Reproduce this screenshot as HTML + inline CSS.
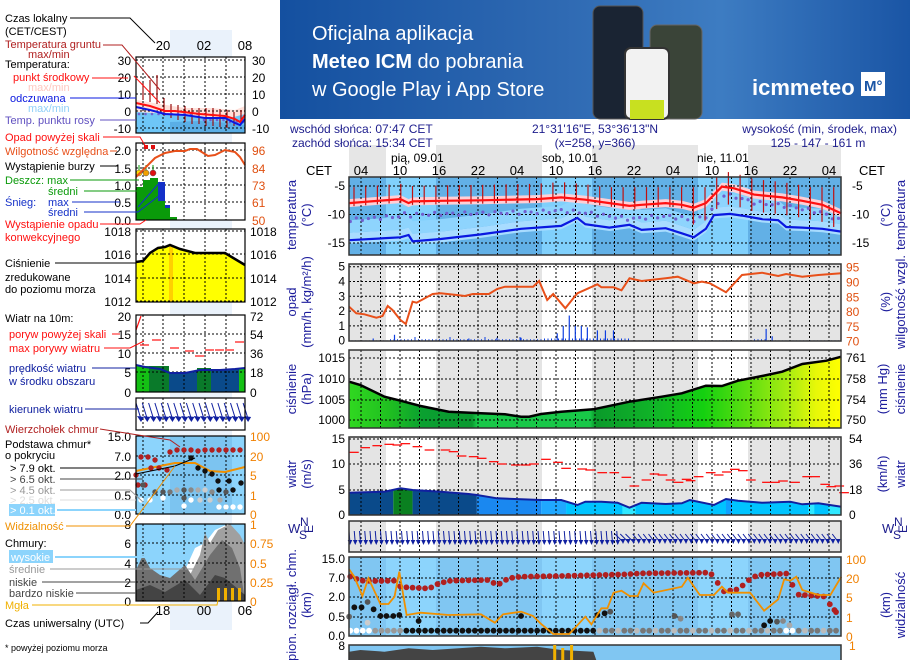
<!DOCTYPE html>
<html><head><meta charset="utf-8">
<style>
html,body{margin:0;padding:0;background:#fff;}
body{width:910px;height:660px;overflow:hidden;position:relative;font-family:"Liberation Sans",sans-serif;}
svg{position:absolute;left:0;top:0;}
text{font-family:"Liberation Sans",sans-serif;}
</style></head>
<body>
<svg id="s" width="910" height="660" xmlns="http://www.w3.org/2000/svg">
<defs>
<linearGradient id="ban" x1="0" y1="0" x2="1" y2="0">
<stop offset="0" stop-color="#1450a0"/><stop offset="0.45" stop-color="#2f6ab3"/><stop offset="0.7" stop-color="#3d7cc2"/><stop offset="1" stop-color="#1a55a5"/></linearGradient>
<linearGradient id="pres" x1="349" y1="0" x2="841" y2="0" gradientUnits="userSpaceOnUse">
<stop offset="0" stop-color="#30d820"/><stop offset="0.08" stop-color="#20c020"/><stop offset="0.15" stop-color="#0aa030"/><stop offset="0.25" stop-color="#0a9a30"/><stop offset="0.26" stop-color="#18c848"/><stop offset="0.49" stop-color="#18c848"/><stop offset="0.5" stop-color="#0a9a2a"/><stop offset="0.62" stop-color="#10b428"/><stop offset="0.72" stop-color="#14d010"/><stop offset="0.82" stop-color="#66e010"/><stop offset="0.9" stop-color="#b0ee10"/><stop offset="0.95" stop-color="#e8f808"/><stop offset="1" stop-color="#ffff00"/></linearGradient>
</defs>
<rect x="280" y="0" width="630" height="119" fill="url(#ban)"/>
<text x="312" y="40" fill="#fff" font-size="20">Oficjalna aplikacja</text>
<text x="312" y="68" fill="#fff" font-size="20"><tspan font-weight="bold">Meteo ICM</tspan> do pobrania</text>
<text x="312" y="96" fill="#fff" font-size="20">w Google Play i App Store</text>
<rect x="593" y="6" width="50" height="113" rx="7" fill="#1a2433" stroke="#555"/>
<rect x="650" y="25" width="52" height="94" rx="7" fill="#3a4438" stroke="#666"/>
<rect x="625" y="48" width="44" height="71" rx="6" fill="#f2f2f2" stroke="#333" stroke-width="2"/>
<rect x="630" y="100" width="34" height="19" fill="#c8e020"/>
<text x="752" y="95" fill="#fff" font-size="22" font-weight="bold">icmmeteo</text>
<rect x="861" y="72" width="24" height="24" fill="#fff"/>
<text x="864" y="91" fill="#1a55a5" font-size="15" font-weight="bold">M°</text>
</svg>
<script>
(function(){
var s=document.getElementById('s');var NS='http://www.w3.org/2000/svg';
function el(t,a,txt){var e=document.createElementNS(NS,t);for(var k in a)e.setAttribute(k,a[k]);if(txt!=null)e.textContent=txt;s.appendChild(e);return e;}
function X(zx){return 280+zx/2.489;}
function Y2(zy){return 120+zy/3;}
function Y3(zy){return 350+zy/3;}
function pts(a,fx,fy){return a.map(function(p){return fx(p[0]).toFixed(1)+','+fy(p[1]).toFixed(1);}).join(' ');}
function txt(x,y,t,c,sz,anc,extra){var a={x:x,y:y,fill:c||'#000','font-size':sz||12};if(anc)a['text-anchor']=anc;if(extra)for(var k in extra)a[k]=extra[k];return el('text',a,t);}
function rot(x,y,t,c,sz){return el('text',{x:0,y:0,fill:c||'#1c1c9c','font-size':sz||13,'text-anchor':'middle',transform:'translate('+x+','+y+') rotate(-90)'},t);}
var L=349,R=841;
var nights=[[349,386],[436,542],[592,698],[748,841]];
var days=[[386,436],[542,592],[698,748]];
nights.forEach(function(n){el('rect',{x:n[0],y:145,width:n[1]-n[0],height:32,fill:'#e6e6e6'});});
var NAVY='#1c1c8c';
txt(290,133,'wschód słońca: 07:47 CET',NAVY,12);
txt(292,147,'zachód słońca: 15:34 CET',NAVY,12);
txt(595,133,'21°31\'16"E, 53°36\'13"N',NAVY,12,'middle');
txt(595,147,'(x=258,  y=366)',NAVY,12,'middle');
txt(897,133,'wysokość (min, środek, max)',NAVY,12,'end');
txt(818,147,'125 - 147 - 161 m',NAVY,12,'middle');
txt(391,162,'pią, 09.01','#000',12);txt(542,162,'sob, 10.01','#000',12);txt(697,162,'nie, 11.01','#000',12);
var hrs=['04','10','16','22'];
for(var i=0;i<13;i++){txt(361+39*i,175,hrs[i%4],'#000',13,'middle');}
txt(306,175,'CET','#000',13);txt(859,175,'CET','#000',13);
function vgrid(y1,y2){for(var x=361;x<R;x+=19.5)el('line',{x1:x,y1:y1,x2:x,y2:y2,stroke:'#000','stroke-dasharray':'2,2','stroke-width':1});}
function hgrid(ys){ys.forEach(function(y){el('line',{x1:L,y1:y,x2:R,y2:y,stroke:'#000','stroke-dasharray':'2,2','stroke-width':1});});}
function frame(y1,y2){el('rect',{x:L,y:y1,width:R-L,height:y2-y1,fill:'none',stroke:'#333','stroke-width':1.5});}
function grayBg(y1,y2){el('rect',{x:L,y:y1,width:R-L,height:y2-y1,fill:'#fff'});nights.forEach(function(n){el('rect',{x:n[0],y:y1,width:n[1]-n[0],height:y2-y1,fill:'#e4e4e4'});});}
var Yt=function(T){return 186+(-5-T)*5.7;};
nights.forEach(function(n){el('rect',{x:n[0],y:177,width:n[1]-n[0],height:78,fill:'#62b0e6'});});
days.forEach(function(n){el('rect',{x:n[0],y:177,width:n[1]-n[0],height:78,fill:'#80d0fc'});});
var red=[[172,-8],[300,-7.3],[320,-8],[330,-7.7],[400,-7.6],[500,-7.5],[640,-7.3],[700,-7],[760,-7.4],[820,-8],[870,-8.5],[900,-8.3],[960,-8],[1000,-8.3],[1030,-8.8],[1060,-8],[1100,-5.1],[1130,-5.4],[1180,-6.5],[1250,-7],[1300,-7.6],[1350,-8.3],[1397,-9.8]];
var blue=[[172,-14.5],[300,-14],[320,-13.6],[330,-14.7],[400,-14.3],[500,-13.5],[600,-12.5],[700,-12],[740,-10.6],[760,-11.7],[820,-12.3],[870,-11.8],[900,-12.7],[960,-12.4],[1000,-13.3],[1030,-14],[1060,-12.5],[1080,-10.1],[1120,-9.9],[1150,-10.2],[1200,-10.8],[1240,-11],[1260,-12.2],[1300,-12.3],[1350,-12.5],[1397,-13]];
function band(a,up,dn,col){var top=a.map(function(p){return [p[0],p[1]+up];});var bot=a.slice().reverse().map(function(p){return [p[0],p[1]-dn];});el('polygon',{points:pts(top.concat(bot),X,Yt),fill:col});}
band(blue,1.3,0.6,'#a8dcff');
band(blue,3.5,-1.3,'#8ed4fd');
band(red,0.7,0.7,'#ffcfd6');
vgrid(177,255);hgrid([186,214.5,243]);
function interp(a,zx){for(var i=0;i<a.length-1;i++){if(zx>=a[i][0]&&zx<=a[i+1][0]){var f=(zx-a[i][0])/(a[i+1][0]-a[i][0]);return a[i][1]+f*(a[i+1][1]-a[i][1]);}}return a[a.length-1][1];}
for(var zx=175;zx<=1397;zx+=15){var T=interp(red,zx)-(zx<300?3:(zx<1100?2.3:1.4))+Math.sin(zx)*0.3;el('circle',{cx:X(zx),cy:Yt(T),r:1.6,fill:'#7060d0'});}
for(var x=354;x<R;x+=11.7){var zx=(x-280)*2.489;var T=interp(red,zx);var top=Math.max(-5.2,T+2.7);var bot=T-(zx>1000?3:0.6);el('line',{x1:x,y1:Yt(top),x2:x,y2:Yt(bot),stroke:'#c01010','stroke-width':1.2});}
el('polyline',{points:pts(blue,X,Yt),fill:'none',stroke:'#0a18e0','stroke-width':2.2});
el('polyline',{points:pts(red,X,Yt),fill:'none',stroke:'#ff1010','stroke-width':2.2});
frame(177,255);
[['-5',186],['-10',214.5],['-15',243]].forEach(function(p){txt(345,p[1]+4,p[0],'#000',12,'end');txt(852,p[1]+4,p[0],'#000',12);});
rot(296,215,'temperatura');rot(311,215,'(°C)');rot(890,215,'(°C)');rot(905,215,'temperatura');
grayBg(264,341);
var Yp=function(v){return 340.7-14.8*v;};
vgrid(264,341);hgrid([Yp(1),Yp(2),Yp(3),Yp(4),Yp(5)]);
for(var x=352;x<R;x+=3.5){var zx=(x-280)*2.489;var v=0.02;if(zx>270&&zx<650)v=0.1+((x*7)%5==0?0.15:0);if(zx>650&&zx<870)v=0.15;if((zx>1180&&zx<1210))v=0.1;
el('line',{x1:x,y1:Yp(0),x2:x,y2:Yp(v),stroke:'#1040e0','stroke-width':1});}
[[690,0.5],[705,1.0],[720,1.7],[735,1.0],[750,1.0],[765,0.9],[790,0.7],[810,0.7],[830,0.7],[600,0.2],[540,0.2],[470,0.15],[285,0.4],[1210,0.8],[1225,0.3],[232,0.15]].forEach(function(b){el('line',{x1:X(b[0]),y1:Yp(0),x2:X(b[0]),y2:Yp(b[1]),stroke:'#1040e0','stroke-width':1.2});});
var hum=[[172,560],[190,580],[210,583],[240,593],[255,588],[268,558],[280,570],[300,600],[313,612],[330,545],[340,548],[380,522],[400,520],[440,525],[460,528],[480,522],[520,522],[540,507],[560,500],[600,500],[630,500],[645,483],[665,540],[680,522],[710,565],[740,520],[790,493],[800,502],[830,502],[850,511],[870,475],[900,483],[960,475],[990,470],[1030,490],[1050,485],[1070,490],[1110,517],[1150,465],[1200,458],[1240,468],[1260,462],[1300,470],[1340,465],[1397,460]];
el('polyline',{points:pts(hum,X,Y2),fill:'none',stroke:'#e8501a','stroke-width':2});
frame(264,341);
for(var v=0;v<=5;v++)txt(345,Yp(v)+4,''+v,'#000',12,'end');
['95','90','85','80','75','70'].forEach(function(t,i){txt(846,Yp(5-i)+5,t,'#e05010',12);});
rot(296,302,'opad');rot(311,302,'(mm/h, kg/m²/h)');rot(890,302,'(%)');rot(905,302,'wilgotność wzgl.');
grayBg(350,428);
var pr=[[172,95],[200,105],[260,140],[300,152],[350,168],[420,185],[500,190],[560,193],[600,200],[620,200],[650,192],[700,185],[780,178],[870,155],[950,140],[1000,130],[1060,107],[1100,108],[1140,92],[1200,78],[1250,65],[1300,42],[1360,32],[1397,20]];
var pp=pr.concat([[1397,235],[172,235]]);
el('polygon',{points:pts(pp,X,Y3),fill:'url(#pres)'});
vgrid(350,428);hgrid([358,379,400,420]);
el('polyline',{points:pts(pr,X,Y3),fill:'none',stroke:'#000','stroke-width':2.5});
frame(350,428);
[['1015',358],['1010',379],['1005',400],['1000',420]].forEach(function(p){txt(345,p[1]+4,p[0],'#000',12,'end');});
[['761',358],['758',379],['754',400],['750',420]].forEach(function(p){txt(846,p[1]+4,p[0],'#000',12);});
rot(296,389,'ciśnienie');rot(311,389,'(hPa)');rot(887,389,'(mm Hg)');rot(905,389,'ciśnienie');
grayBg(437,515);
var ws=[[172,428],[260,425],[300,415],[330,420],[400,425],[470,432],[490,435],[540,445],[600,448],[650,450],[700,450],[740,465],[760,455],[800,455],[840,458],[870,473],[900,458],[960,462],[1000,460],[1020,450],[1080,465],[1110,447],[1140,452],[1200,458],[1270,455],[1300,463],[1340,460],[1397,470]];
var cp=el('clipPath',{id:'wc'});var poly=document.createElementNS(NS,'polygon');poly.setAttribute('points',pts(ws.concat([[1397,495],[172,495]]),X,Y3));cp.appendChild(poly);
[[172,282,'#0a4a8a'],[282,330,'#0a8020'],[330,490,'#0a4a8a'],[490,650,'#1a88f0'],[650,712,'#20a8ff'],[712,1397,'#00c4ff'],[852,885,'#30e8ff'],[1315,1330,'#30e8ff'],[1365,1397,'#30e8ff'],[1110,1125,'#10a0ff']].forEach(function(c){el('rect',{x:X(c[0]),y:430,width:X(c[1])-X(c[0]),height:86,fill:c[2],'clip-path':'url(#wc)'});});
vgrid(437,515);hgrid([439,464,490]);
el('polyline',{points:pts(ws,X,Y3),fill:'none',stroke:'#1020a0','stroke-width':2});
var gu=[[172,307],[200,293],[230,287],[260,283],[280,285],[300,281],[330,290],[360,300],[400,300],[420,305],[440,318],[470,320],[490,325],[520,335],[540,342],[575,345],[600,345],[620,342],[650,328],[680,337],[700,355],[740,357],[760,360],[790,368],[820,368],[850,382],[870,408],[900,390],[920,372],[940,375],[960,390],[980,397],[1000,388],[1010,392],[1030,380],[1060,368],[1080,375],[1100,366],[1120,358],[1140,362],[1160,390],[1200,397],[1220,397],[1240,393],[1270,397],[1300,380],[1320,380],[1345,403],[1360,410],[1380,408],[1392,428]];
gu.forEach(function(g){el('line',{x1:X(g[0]),y1:Y3(g[1]),x2:X(g[0]+24),y2:Y3(g[1]),stroke:'#ff1010','stroke-width':1.3});});
frame(437,515);
[['15',439],['10',464],['5',490],['0',515]].forEach(function(p){txt(345,p[1]+4,p[0],'#000',12,'end');});
[['54',439],['36',464],['18',490],['0',515]].forEach(function(p){txt(849,p[1]+4,p[0],'#000',12);});
rot(296,474,'wiatr');rot(311,474,'(m/s)');rot(887,474,'(km/h)');rot(905,474,'wiatr');
grayBg(521,552);vgrid(521,552);
for(var x=350;x<R;x+=5.25){var zx=(x-280)*2.489;var dx=zx<850?1:(zx<880?8:6);var y1=531,y2=543;if(zx>=850){y1=534;y2=542;}
el('line',{x1:x-dx,y1:y1,x2:x,y2:y2,stroke:'#1020a0','stroke-width':1});
el('polygon',{points:(x-2.3)+','+(y2-3)+' '+(x+2.3)+','+(y2-3)+' '+x+','+(y2+2),fill:'#1020a0'});}
frame(521,552);
function compass(x,y){txt(x,y+10,'W',NAVY,13);txt(x+12,y+3,'N',NAVY,12);txt(x+11,y+16,'S',NAVY,12);txt(x+19,y+10,'E',NAVY,12,null,{transform:'rotate(-90 '+(x+22)+' '+(y+7)+')'});}
compass(288,523);compass(882,523);
nights.forEach(function(n){el('rect',{x:n[0],y:557,width:n[1]-n[0],height:79,fill:'#80c6f2'});});
days.forEach(function(n){el('rect',{x:n[0],y:557,width:n[1]-n[0],height:79,fill:'#8cd4fc'});});
vgrid(557,636);hgrid([578,597,617]);
var top=[[172,678],[185,685],[205,692],[245,693],[285,692],[300,710],[315,712],[362,715],[378,712],[395,700],[425,692],[520,690],[537,703],[552,700],[567,685],[600,680],[700,678],[860,673],[900,670],[1060,668],[1080,675],[1100,725],[1140,718],[1158,700],[1172,685],[1190,675],[1270,670],[1280,733],[1360,740],[1375,780],[1397,795]];
for(var zx=175;zx<=1397;zx+=15.5){el('circle',{cx:X(zx),cy:Y3(interp(top,zx)),r:2.9,fill:'#b02020'});}
for(var zx=175;zx<=1397;zx+=15.5){var c='#888';if(zx>300&&zx<790)c='#111';else if(zx<300)c=(zx<230?'#fff':'#999');else if(zx>1250&&zx<1290)c='#fff';else c=((Math.round(zx/15.5))%3==0?'#bbb':'#777');
el('circle',{cx:X(zx),cy:Y3(842),r:2.9,fill:c});}
[[172,800,'#666'],[185,772,'#111'],[203,772,'#111'],[218,756,'#555'],[218,818,'#ccc'],[233,778,'#111'],[250,798,'#111'],[265,798,'#111'],[282,798,'#111'],[297,795,'#111'],[345,813,'#111'],[600,798,'#111'],[790,795,'#111'],[808,790,'#111'],[822,785,'#555'],[982,798,'#555'],[997,806,'#888'],[1125,793,'#666'],[1140,793,'#666'],[1205,826,'#111'],[1220,813,'#111'],[1237,815,'#555'],[1252,813,'#888'],[1268,826,'#aaa'],[1380,780,'#b02020']].forEach(function(d){el('circle',{cx:X(d[0]),cy:Y3(d[1]),r:2.9,fill:d[2]});});
var vis=[[172,658],[185,680],[205,738],[220,685],[230,710],[250,762],[270,762],[285,740],[297,665],[315,795],[350,788],[420,795],[500,793],[535,818],[555,793],[600,785],[630,798],[650,822],[680,852],[720,852],[760,800],[775,823],[800,775],[815,775],[830,728],[850,722],[870,738],[890,738],[905,700],[930,728],[1000,710],[1015,683],[1045,735],[1080,735],[1100,710],[1115,728],[1170,728],[1205,782],[1240,748],[1255,688],[1270,692],[1285,680],[1300,720],[1340,735],[1370,735],[1397,680]];
el('polyline',{points:pts(vis,X,Y3),fill:'none',stroke:'#f09000','stroke-width':1.8});
frame(557,636);
[['15.0',559],['7.0',578],['2.0',597],['0.5',617],['0.0',636]].forEach(function(p){txt(345,p[1]+4,p[0],'#000',12,'end');});
[['100',559],['20',578],['5',597],['1',617],['0',636]].forEach(function(p){txt(846,p[1]+5,p[0],'#f08000',12);});
rot(296,605,'pion. rozciągł. chm.');rot(311,605,'(km)');rot(890,605,'(km)');rot(905,605,'widzialność');
el('rect',{x:L,y:645,width:R-L,height:20,fill:'#80c6f2'});
el('polygon',{points:pts([[172,905],[200,900],[260,905],[320,895],[380,900],[500,890],[560,895],[640,890],[700,900],[780,905],[790,940],[172,940]],X,Y3),fill:'#444'});
el('rect',{x:L,y:645,width:R-L,height:20,fill:'none',stroke:'#333','stroke-width':1.5});
el('rect',{x:X(680),y:645,width:3,height:15,fill:'#f0b000'});el('rect',{x:X(700),y:648,width:3,height:12,fill:'#f0b000'});el('rect',{x:X(722),y:645,width:3,height:15,fill:'#f0b000'});
txt(345,650,'8','#000',12,'end');txt(849,650,'1','#f08000',12);

el('rect',{x:170,y:30,width:62,height:600,fill:'#eaf2fb'});
function lvgrid(y1,y2){[143,163,184,205,226].forEach(function(x){el('line',{x1:x,y1:y1,x2:x,y2:y2,stroke:'#000','stroke-dasharray':'2,2'});});}
function lhgrid(ys){ys.forEach(function(y){el('line',{x1:136,y1:y,x2:245,y2:y,stroke:'#000','stroke-dasharray':'2,2'});});}
function lframe(y1,y2){el('rect',{x:136,y:y1,width:109,height:y2-y1,fill:'none',stroke:'#000','stroke-width':1.2});}
function P(a){return a.map(function(p){return p.join(',');}).join(' ');}
function ln(pts_,c,w){el('polyline',{points:P(pts_),fill:'none',stroke:c,'stroke-width':w||1});}
txt(163,50,'20','#000',13,'middle');txt(204,50,'02','#000',13,'middle');txt(245,50,'08','#000',13,'middle');
el('rect',{x:136,y:57,width:109,height:76,fill:'#fff'});
el('polygon',{points:P([[136,100],[160,104],[185,108],[210,108],[235,110],[245,106],[245,133],[136,133]]),fill:'#ffe0da'});
el('polygon',{points:P([[136,112],[155,113],[170,115],[200,117],[230,118],[245,114],[245,133],[136,133]]),fill:'#6ec6f7'});
el('polygon',{points:P([[170,122],[200,121],[230,123],[245,125],[245,133],[170,133]]),fill:'#5aaee6'});
lvgrid(57,133);lhgrid([60,77,94,111,128]);
[143,150,157,164,171,178,185,192,199,206,213,220,227,234,241].forEach(function(x,i){var t=[83,80,75,98,104,105,106,108,108,108,108,109,110,112,110][i];var b=[100,102,104,116,118,120,122,124,124,126,126,127,128,126,122][i];ln([[x,t],[x,b]],'#9a1010',1.2);});
for(var x=139;x<245;x+=6.5)el('circle',{cx:x,cy:114+(x>200?6:0)+(x>225?2:0),r:1.3,fill:'#7060d0'});
ln([[136,103],[150,106],[165,111],[175,111],[200,114],[225,116],[235,119],[240,122],[245,115]],'#ff1010',2);
ln([[136,107],[150,110],[165,114],[185,115],[205,118],[225,118],[235,123],[240,125],[245,119]],'#0a18e0',2);
lframe(57,133);
[['30',60],['20',77],['10',94],['0',111],['-10',128]].forEach(function(p){txt(131,p[1]+5,p[0],'#000',12,'end');txt(252,p[1]+5,p[0],'#000',12);});
el('rect',{x:136,y:143,width:109,height:77,fill:'#fff'});
lvgrid(143,220);lhgrid([150,168,185,202]);
el('rect',{x:136,y:187,width:11,height:33,fill:'#0a9a0a'});el('rect',{x:143,y:180,width:15,height:40,fill:'#0a9a0a'});el('rect',{x:150,y:178,width:8,height:42,fill:'#0a9a0a'});
el('rect',{x:158,y:182,width:7,height:19,fill:'#1430c8'});el('rect',{x:158,y:201,width:7,height:19,fill:'#0a9a0a'});
el('rect',{x:165,y:205,width:5,height:3,fill:'#1430c8'});el('rect',{x:165,y:208,width:5,height:12,fill:'#0a9a0a'});el('rect',{x:170,y:217,width:7,height:3,fill:'#0a9a0a'});
[139,146,153].forEach(function(x,i){ln([[x,173],[x,165]],'#0a9a0a',1);el('circle',{cx:x,cy:173,r:3,fill:['#ffdd00','#f0a000','#e01010'][i],stroke:'#555','stroke-width':0.5});});
el('rect',{x:144,y:145,width:4,height:4,fill:'#e01010'});el('rect',{x:151,y:145,width:4,height:4,fill:'#e01010'});
ln([[136,177],[145,168],[155,158],[165,153],[175,151],[185,151],[190,149],[197,149],[208,156],[215,155],[225,150],[235,152],[240,157],[245,165]],'#e8501a',2);
lframe(143,220);
[['2.0',150],['1.5',168],['1.0',185],['0.5',202],['0.0',220]].forEach(function(p){txt(131,p[1]+5,p[0],'#000',12,'end');});
[['96',150],['84',168],['73',185],['61',202],['50',220]].forEach(function(p){txt(252,p[1]+5,p[0],'#e05010',12);});
el('rect',{x:136,y:229,width:109,height:73,fill:'#fff'});
var pm=[[136,262],[143,261],[150,253],[158,248],[165,247],[170,245],[180,249],[195,253],[225,253],[245,265]];
el('polygon',{points:P(pm.concat([[245,302],[136,302]])),fill:'#ffff00'});
el('rect',{x:169,y:246,width:4,height:56,fill:'#ffd000'});
lvgrid(229,302);lhgrid([231,254,278,301]);
ln(pm,'#000',2.5);lframe(229,302);
[['1018',231],['1016',254],['1014',278],['1012',301]].forEach(function(p){txt(131,p[1]+5,p[0],'#000',12,'end');txt(250,p[1]+5,p[0],'#000',12);});
el('rect',{x:136,y:315,width:109,height:77,fill:'#fff'});
var wm=[[136,365],[145,367],[160,369],[170,373],[185,373],[200,370],[220,370],[235,369],[245,368]];
el('polygon',{points:P(wm.concat([[245,392],[136,392]])),fill:'#0a4a8a'});
el('rect',{x:136,y:366,width:13,height:26,fill:'#14c014'});el('rect',{x:149,y:366,width:20,height:26,fill:'#0a7a2a'});el('rect',{x:197,y:368,width:14,height:24,fill:'#0a7a2a'});el('rect',{x:239,y:368,width:6,height:24,fill:'#14c014'});
lvgrid(315,392);lhgrid([334,353,372]);
ln(wm,'#1020a0',2);
[[140,345],[152,340],[170,348],[185,351],[195,356],[205,350],[215,350],[225,350],[235,342]].forEach(function(g){ln([[g[0],g[1]],[g[0]+9,g[1]]],'#ff1010',1.2);});
ln([[136,330],[141,316]],'#ff1010',1.2);
lframe(315,392);
[['20',316],['15',334],['10',353],['5',372],['0',392]].forEach(function(p){txt(131,p[1]+5,p[0],'#000',12,'end');});
[['72',316],['54',334],['36',353],['18',372],['0',392]].forEach(function(p){txt(250,p[1]+5,p[0],'#000',12);});
el('rect',{x:136,y:398,width:109,height:32,fill:'#fff'});lvgrid(398,430);
for(var x=140;x<250;x+=6.3){ln([[x-4,403],[x+1,419]],'#1020a0',1);el('polygon',{points:(x-3)+','+416+' '+(x+4)+','+417+' '+(x+1)+','+422,fill:'#1020a0'});}
lframe(398,430);
el('rect',{x:136,y:436,width:109,height:78,fill:'#8cd4fc'});el('rect',{x:170,y:436,width:62,height:78,fill:'#7cc4f0'});
lvgrid(436,514);lhgrid([456,475,495]);
ln([[136,471],[160,466],[175,463],[195,463],[210,471],[225,472],[245,467]],'#f09000',2);
[[141,457],[148,457],[155,460],[170,452],[177,450],[184,450],[191,450],[198,451],[205,450],[212,450],[219,450],[226,450],[233,450],[240,450],[151,468],[159,468],[167,470],[138,485],[145,485],[136,475]].forEach(function(d){el('circle',{cx:d[0],cy:d[1],r:2.7,fill:'#b02020'});});
[[191,458,'#111'],[198,468,'#111'],[205,471,'#111'],[212,474,'#111'],[218,481,'#111'],[229,481,'#111'],[241,483,'#111'],[143,485,'#555'],[155,492,'#555'],[163,492,'#555'],[170,492,'#777'],[177,490,'#aaa'],[184,490,'#555'],[191,490,'#888'],[198,490,'#aaa'],[205,490,'#ccc'],[212,492,'#888'],[219,490,'#111'],[226,492,'#555'],[233,490,'#111'],[184,498,'#555'],[184,506,'#fff'],[191,500,'#fff'],[141,500,'#fff'],[150,500,'#fff'],[163,498,'#fff'],[219,507,'#fff'],[226,507,'#fff'],[233,507,'#fff'],[240,507,'#fff'],[200,500,'#ccc'],[210,500,'#ccc'],[220,500,'#aaa']].forEach(function(d){el('circle',{cx:d[0],cy:d[1],r:2.7,fill:d[2]});});
ln([[136,474],[175,466],[195,458]],'#000',1);
lframe(436,514);
[['15.0',436],['7.0',456],['2.0',475],['0.5',495],['0.0',514]].forEach(function(p){txt(131,p[1]+5,p[0],'#000',12,'end');});
[['100',436],['20',456],['5',475],['1',495],['0',514]].forEach(function(p){txt(250,p[1]+5,p[0],'#f08000',12);});
el('rect',{x:136,y:524,width:109,height:77,fill:'#8cd4fc'});
el('polygon',{points:P([[170,601],[175,580],[185,570],[195,548],[205,543],[215,530],[228,524],[240,540],[245,550],[245,601]]),fill:'#fff'});
el('polygon',{points:P([[180,601],[190,575],[200,555],[205,533],[210,543],[218,530],[230,524],[240,535],[245,545],[245,601]]),fill:'#a0a0a0'});
el('polygon',{points:P([[136,601],[136,570],[143,555],[150,568],[160,575],[170,578],[185,565],[195,580],[210,555],[222,540],[232,548],[240,568],[245,601]]),fill:'#707070'});
el('polygon',{points:P([[136,601],[136,590],[150,585],[165,592],[185,580],[200,595],[215,575],[225,578],[245,595],[245,601]]),fill:'#444'});
lvgrid(524,601);lhgrid([543,563,582]);
[217,224,231,238].forEach(function(x){el('rect',{x:x,y:588,width:3,height:13,fill:'#f0b000'});});
lframe(524,601);
[['8',524],['6',543],['4',563],['2',582],['0',601]].forEach(function(p){txt(131,p[1]+5,p[0],'#000',12,'end');});
[['1',524],['0.75',543],['0.5',563],['0.25',582],['0',601]].forEach(function(p){txt(250,p[1]+5,p[0],'#f08000',12);});
txt(163,615,'18','#000',13,'middle');txt(204,615,'00','#000',13,'middle');txt(245,615,'06','#000',13,'middle');
var F=11;
txt(5,22,'Czas lokalny','#000',F);txt(5,35,'(CET/CEST)','#000',F);
ln([[70,18],[130,18],[155,43]],'#000',1);
txt(5,48,'Temperatura gruntu','#b02020',F);txt(28,58,'max/min','#b02020',F);
ln([[103,45],[122,45],[160,90]],'#b02020',1);
txt(5,68,'Temperatura:','#000',F);
txt(13,81,'punkt środkowy','#ff1010',F);ln([[92,78],[128,78]],'#ff1010',1);ln([[134,76],[160,103]],'#ff1010',1);
txt(28,91,'max/min','#ffc8c0',F);
txt(10,102,'odczuwana','#0a18e0',F);ln([[70,98],[136,98]],'#0a18e0',1);
txt(28,112,'max/min','#90d0f8',F);
txt(5,124,'Temp. punktu rosy','#6050c0',F);ln([[100,120],[136,120]],'#6050c0',1);
txt(5,141,'Opad powyżej skali','#ff1010',F);ln([[103,137],[140,137],[146,147]],'#ff1010',1);
txt(5,155,'Wilgotność względna','#e8501a',F);ln([[110,151],[117,151]],'#e8501a',1);
txt(5,170,'Wystąpienie burzy','#000',F);ln([[100,166],[118,166]],'#000',1);
txt(5,184,'Deszcz: max','#0a9a0a',F);ln([[70,180],[139,180]],'#0a9a0a',1);
txt(48,195,'średni','#0a9a0a',F);ln([[84,191],[143,191]],'#0a9a0a',1);
txt(5,206,'Śnieg:','#1430c8',F);txt(48,206,'max','#1430c8',F);ln([[72,202],[120,202]],'#1430c8',1);ln([[138,207],[160,182]],'#1430c8',1);
txt(48,216,'średni','#1430c8',F);ln([[84,212],[138,212],[160,195]],'#1430c8',1);
txt(5,228,'Wystąpienie opadu','#ff1010',F);txt(5,241,'konwekcyjnego','#ff1010',F);ln([[100,224],[140,224],[146,220]],'#ff1010',1);
txt(5,267,'Ciśnienie','#000',F);ln([[55,263],[136,263]],'#000',1);
txt(5,281,'zredukowane','#000',F);txt(5,293,'do poziomu morza','#000',F);
txt(5,322,'Wiatr na 10m:','#000',F);
txt(9,338,'poryw powyżej skali','#ff1010',F);ln([[112,334],[120,334]],'#ff1010',1);
txt(9,352,'max porywy wiatru','#ff1010',F);ln([[104,348],[130,348],[144,341]],'#ff1010',1);
txt(9,372,'prędkość wiatru','#1020a0',F);ln([[92,368],[136,368]],'#1020a0',1);
txt(9,385,'w środku obszaru','#1020a0',F);
txt(9,413,'kierunek wiatru','#1020a0',F);ln([[85,409],[139,409]],'#1020a0',1);
txt(5,433,'Wierzchołek chmur','#b02020',F);ln([[100,429],[170,440],[180,447]],'#b02020',1);
txt(5,448,'Podstawa chmur*','#000',F);txt(5,459,'o pokryciu','#000',F);
txt(10,472,'> 7.9 okt.','#000',F);ln([[60,468],[136,468]],'#000',1);
txt(10,483,'> 6.5 okt.','#444',F);ln([[60,479],[143,479]],'#444',1);
txt(10,494,'> 4.5 okt.','#999',F);ln([[60,490],[130,490],[143,502]],'#999',1);
txt(10,504,'> 2.5 okt.','#ddd',F);ln([[60,500],[136,500]],'#ddd',1);
el('rect',{x:9,y:504,width:46,height:12,fill:'#8cd4fc'});txt(10,514,'> 0.1 okt.','#fff',F);ln([[57,510],[136,510]],'#8cd4fc',2);
txt(5,530,'Widzialność','#f09000',F);ln([[66,526],[130,526],[175,466]],'#f09000',1);
txt(5,547,'Chmury:','#000',F);
el('rect',{x:9,y:550,width:44,height:13,fill:'#8cd4fc'});txt(11,561,'wysokie','#fff',F);ln([[55,557],[185,557]],'#8cd4fc',2);
txt(9,573,'średnie','#999',F);ln([[50,569],[195,569]],'#999',1);
txt(9,586,'niskie','#444',F);ln([[42,582],[136,582]],'#444',1);
txt(9,597,'bardzo niskie','#444',F);ln([[76,593],[136,593]],'#444',1);
txt(5,609,'Mgła','#f0b000',F);ln([[32,605],[217,605],[218,600]],'#f0b000',1);
txt(5,627,'Czas uniwersalny (UTC)','#000',F);ln([[140,623],[148,623],[158,612]],'#000',1);
txt(5,651,'* powyżej poziomu morza','#000',9);
})();
</script>
</body></html>
